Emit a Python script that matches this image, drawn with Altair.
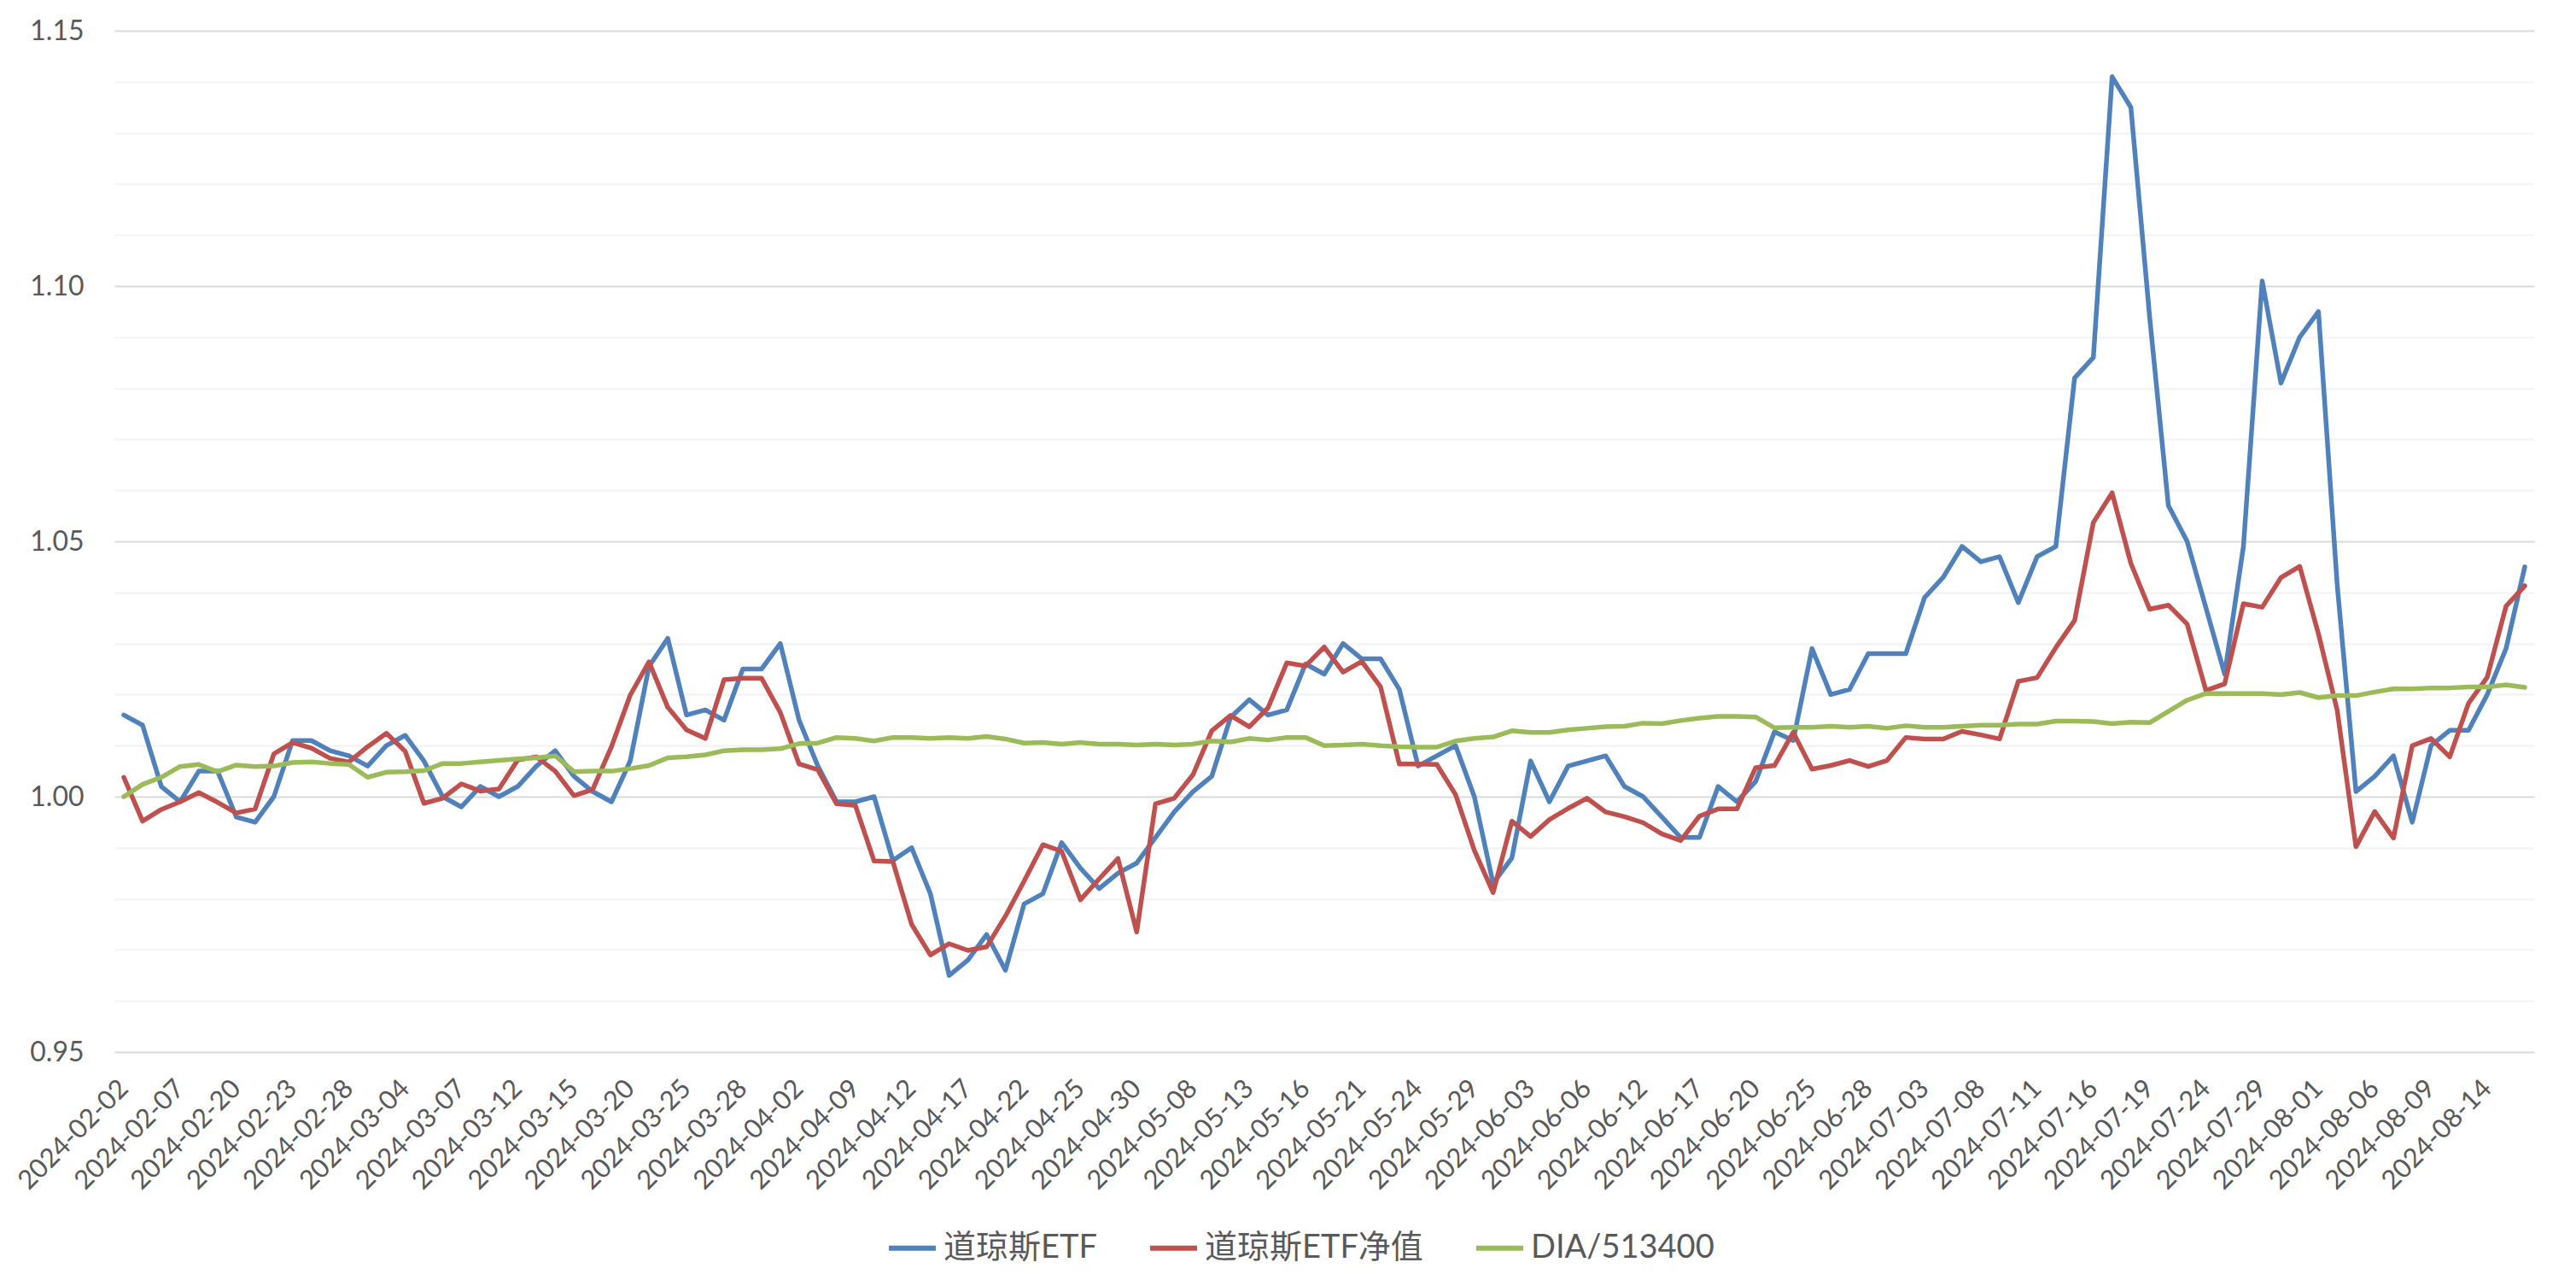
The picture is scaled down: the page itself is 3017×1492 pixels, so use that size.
import altair as alt
import pandas as pd

dates = [
    "2024-02-02", "2024-02-05", "2024-02-06", "2024-02-07", "2024-02-08", "2024-02-19", "2024-02-20",
    "2024-02-21", "2024-02-22", "2024-02-23", "2024-02-26", "2024-02-27", "2024-02-28", "2024-02-29",
    "2024-03-01", "2024-03-04", "2024-03-05", "2024-03-06", "2024-03-07", "2024-03-08", "2024-03-11",
    "2024-03-12", "2024-03-13", "2024-03-14", "2024-03-15", "2024-03-18", "2024-03-19", "2024-03-20",
    "2024-03-21", "2024-03-22", "2024-03-25", "2024-03-26", "2024-03-27", "2024-03-28", "2024-03-29",
    "2024-04-01", "2024-04-02", "2024-04-03", "2024-04-08", "2024-04-09", "2024-04-10", "2024-04-11",
    "2024-04-12", "2024-04-15", "2024-04-16", "2024-04-17", "2024-04-18", "2024-04-19", "2024-04-22",
    "2024-04-23", "2024-04-24", "2024-04-25", "2024-04-26", "2024-04-29", "2024-04-30",
    "2024-05-06", "2024-05-07", "2024-05-08", "2024-05-09", "2024-05-10", "2024-05-13", "2024-05-14",
    "2024-05-15", "2024-05-16", "2024-05-17", "2024-05-20", "2024-05-21", "2024-05-22", "2024-05-23",
    "2024-05-24", "2024-05-27", "2024-05-28", "2024-05-29", "2024-05-30", "2024-05-31",
    "2024-06-03", "2024-06-04", "2024-06-05", "2024-06-06", "2024-06-07", "2024-06-11", "2024-06-12",
    "2024-06-13", "2024-06-14", "2024-06-17", "2024-06-18", "2024-06-19", "2024-06-20", "2024-06-21",
    "2024-06-24", "2024-06-25", "2024-06-26", "2024-06-27", "2024-06-28",
    "2024-07-01", "2024-07-02", "2024-07-03", "2024-07-04", "2024-07-05", "2024-07-08", "2024-07-09",
    "2024-07-10", "2024-07-11", "2024-07-12", "2024-07-15", "2024-07-16", "2024-07-17", "2024-07-18",
    "2024-07-19", "2024-07-22", "2024-07-23", "2024-07-24", "2024-07-25", "2024-07-26", "2024-07-29",
    "2024-07-30", "2024-07-31",
    "2024-08-01", "2024-08-02", "2024-08-05", "2024-08-06", "2024-08-07", "2024-08-08", "2024-08-09",
    "2024-08-12", "2024-08-13", "2024-08-14", "2024-08-15", "2024-08-16",
]

label_dates = [
    "2024-02-02", "2024-02-07", "2024-02-20", "2024-02-23", "2024-02-28", "2024-03-04", "2024-03-07",
    "2024-03-12", "2024-03-15", "2024-03-20", "2024-03-25", "2024-03-28", "2024-04-02", "2024-04-09",
    "2024-04-12", "2024-04-17", "2024-04-22", "2024-04-25", "2024-04-30", "2024-05-08", "2024-05-13",
    "2024-05-16", "2024-05-21", "2024-05-24", "2024-05-29", "2024-06-03", "2024-06-06", "2024-06-12",
    "2024-06-17", "2024-06-20", "2024-06-25", "2024-06-28", "2024-07-03", "2024-07-08", "2024-07-11",
    "2024-07-16", "2024-07-19", "2024-07-24", "2024-07-29", "2024-08-01", "2024-08-06", "2024-08-09",
    "2024-08-14",
]

series_names = ["道琼斯ETF", "道琼斯ETF净值", "DIA/513400"]

etf_price = [
    1.016, 1.014, 1.002, 0.999, 1.005, 1.005, 0.996, 0.995, 1.000, 1.011,
    1.011, 1.009, 1.008, 1.006, 1.010, 1.012, 1.007, 1.000, 0.998, 1.002,
    1.000, 1.002, 1.006, 1.009, 1.004, 1.001, 0.999, 1.007, 1.0255, 1.031,
    1.016, 1.017, 1.015, 1.025, 1.025, 1.030, 1.015, 1.006, 0.999, 0.999,
    1.000, 0.9875, 0.990, 0.981, 0.965, 0.968, 0.973, 0.966, 0.979, 0.981,
    0.991, 0.986, 0.982, 0.985, 0.987, 0.992, 0.997, 1.001, 1.004, 1.0155,
    1.019, 1.016, 1.017, 1.026, 1.024, 1.030, 1.027, 1.027, 1.021, 1.006,
    1.008, 1.010, 1.000, 0.983, 0.988, 1.007, 0.999, 1.006, 1.007, 1.008,
    1.002, 1.000, 0.996, 0.992, 0.992, 1.002, 0.999, 1.003, 1.0127, 1.011,
    1.029, 1.020, 1.021, 1.028, 1.028, 1.028, 1.039, 1.043, 1.049, 1.046,
    1.047, 1.038, 1.047, 1.049, 1.082, 1.086, 1.141, 1.135, 1.094, 1.057,
    1.050, 1.037, 1.024, 1.049, 1.101, 1.081, 1.090, 1.095, 1.0415, 1.001,
    1.004, 1.008, 0.995, 1.010, 1.013, 1.013, 1.020, 1.029, 1.045,
]

etf_nav = [
    1.0038, 0.9952, 0.9975, 0.9990, 1.0008, 0.9989, 0.9968, 0.9976, 1.0084, 1.0106,
    1.0095, 1.0075, 1.0068, 1.0098, 1.0124, 1.0089, 0.9987, 0.9997, 1.0025, 1.0011,
    1.0015, 1.0072, 1.0078, 1.0050, 1.0002, 1.0014, 1.0098, 1.0199, 1.0264, 1.0175,
    1.0131, 1.0114, 1.0229, 1.0232, 1.0232, 1.0165, 1.0064, 1.0053, 0.9986, 0.9983,
    0.9874, 0.9873, 0.9750, 0.9690, 0.9712, 0.9699, 0.9706, 0.9766, 0.9835, 0.9906,
    0.9893, 0.9798, 0.9839, 0.9879, 0.9735, 0.9986, 0.9997, 1.0043, 1.0129, 1.0159,
    1.0137, 1.0174, 1.0262, 1.0256, 1.0293, 1.0244, 1.0265, 1.0215, 1.0064, 1.0064,
    1.0063, 1.0004, 0.9895, 0.9812, 0.9952, 0.9922, 0.9955, 0.9977, 0.9997, 0.9970,
    0.9961, 0.9949, 0.9927, 0.9914, 0.9962, 0.9976, 0.9976, 1.0057, 1.0061, 1.0126,
    1.0054, 1.0061, 1.0071, 1.0059, 1.0071, 1.0116, 1.0113, 1.0113, 1.0128, 1.0121,
    1.0113, 1.0226, 1.0233, 1.0292, 1.0345, 1.0537, 1.0595, 1.0457, 1.0367, 1.0375,
    1.0338, 1.0208, 1.0221, 1.0378, 1.0371, 1.0429, 1.0451, 1.0319, 1.0169, 0.9902,
    0.9971, 0.9919, 1.0100, 1.0114, 1.0078, 1.0183, 1.0234, 1.0373, 1.0413,
]

dia_ratio = [
    1.0000, 1.0024, 1.0038, 1.0059, 1.0063, 1.0049, 1.0062, 1.0059, 1.0060, 1.0067,
    1.0068, 1.0065, 1.0063, 1.0038, 1.0048, 1.0049, 1.0051, 1.0065, 1.0065, 1.0068,
    1.0071, 1.0074, 1.0076, 1.0080, 1.0049, 1.0050, 1.0050, 1.0055, 1.0061, 1.0076,
    1.0078, 1.0082, 1.0090, 1.0092, 1.0092, 1.0094, 1.0104, 1.0105, 1.0116, 1.0114,
    1.0109, 1.0116, 1.0116, 1.0114, 1.0116, 1.0114, 1.0118, 1.0113, 1.0105, 1.0106,
    1.0103, 1.0106, 1.0103, 1.0103, 1.0101, 1.0103, 1.0101, 1.0103, 1.0109, 1.0107,
    1.0114, 1.0111, 1.0116, 1.0116, 1.0100, 1.0101, 1.0103, 1.0100, 1.0098, 1.0097,
    1.0097, 1.0109, 1.0114, 1.0117, 1.0129, 1.0126, 1.0126, 1.0131, 1.0134, 1.0137,
    1.0138, 1.0144, 1.0143, 1.0149, 1.0154, 1.0157, 1.0157, 1.0156, 1.0135, 1.0136,
    1.0136, 1.0138, 1.0136, 1.0138, 1.0134, 1.0139, 1.0136, 1.0136, 1.0138, 1.0140,
    1.0140, 1.0142, 1.0142, 1.0148, 1.0148, 1.0147, 1.0143, 1.0146, 1.0145, 1.0167,
    1.0189, 1.0202, 1.0202, 1.0202, 1.0202, 1.0200, 1.0204, 1.0194, 1.0198, 1.0198,
    1.0205, 1.0211, 1.0211, 1.0213, 1.0213, 1.0215, 1.0215, 1.0219, 1.0214,
]

y_ticks = [0.95, 0.96, 0.97, 0.98, 0.99, 1.00, 1.01, 1.02, 1.03, 1.04, 1.05,
           1.06, 1.07, 1.08, 1.09, 1.10, 1.11, 1.12, 1.13, 1.14, 1.15]

colors = ["#4F81BD", "#C0504D", "#9BBB59"]

rows = []
for name, vals in zip(series_names, [etf_price, etf_nav, dia_ratio]):
    for d, v in zip(dates, vals):
        rows.append({"date": d, "value": v, "series": name})
df = pd.DataFrame(rows)

FONT = "Lato, 'Noto Sans CJK SC', sans-serif"
major_test = "abs(datum.value * 20 - round(datum.value * 20)) < 0.001"

chart = (
    alt.Chart(df)
    .mark_line(strokeWidth=5.5, strokeJoin="round", strokeCap="round")
    .encode(
        x=alt.X(
            "date:O",
            sort=dates,
            scale=alt.Scale(type="point", padding=0.5),
            axis=alt.Axis(
                values=label_dates,
                title=None,
                labelAngle=315,
                labelAlign="right",
                labelBaseline="middle",
                labelFontSize=31,
                labelColor="#595959",
                labelFont=FONT,
                labelPadding=38,
                labelLimit=500,
                labelOverlap=False,
                ticks=False,
                domain=False,
                grid=False,
            ),
        ),
        y=alt.Y(
            "value:Q",
            scale=alt.Scale(domain=[0.95, 1.15], nice=False, zero=False),
            axis=alt.Axis(
                values=y_ticks,
                title=None,
                labelExpr=f"{major_test} ? format(datum.value, '.2f') : ''",
                labelFontSize=32,
                labelColor="#595959",
                labelFont=FONT,
                labelPadding=36,
                ticks=False,
                domain=False,
                grid=True,
                gridWidth=2,
                gridColor={
                    "condition": {"test": major_test, "value": "#D9D9D9"},
                    "value": "#F2F2F2",
                },
            ),
        ),
        color=alt.Color(
            "series:N",
            sort=series_names,
            scale=alt.Scale(domain=series_names, range=colors),
            legend=alt.Legend(
                title=None,
                orient="none",
                legendX=904,
                legendY=1395,
                direction="horizontal",
                symbolType="stroke",
                symbolSize=3025,
                symbolStrokeWidth=6,
                labelFontSize=38,
                labelFont=FONT,
                labelColor="#595959",
                labelOffset=6,
                labelLimit=600,
                columnPadding=50,
                padding=0,
            ),
        ),
    )
    .properties(
        width=2834,
        height=1196,
        autosize=alt.AutoSizeParams(type="none"),
        padding={"left": 126, "top": 28, "right": 41, "bottom": 252},
        background="white",
    )
    .configure_view(stroke=None)
)

chart.save("out.html", embed_options={"renderer": "svg", "actions": False})
